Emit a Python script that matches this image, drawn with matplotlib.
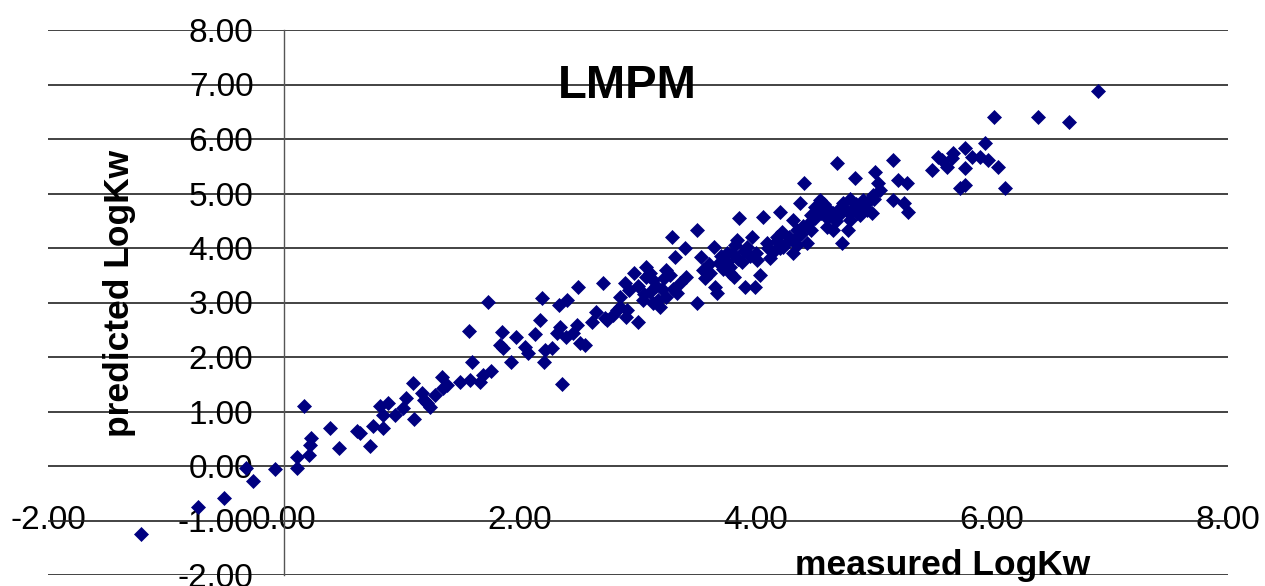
import numpy as np
import matplotlib
matplotlib.use("Agg")
import matplotlib.pyplot as plt

plt.rcParams['font.family'] = ['Liberation Sans', 'DejaVu Sans']

# measured vs predicted LogKw
measured = [
    -1.21, -0.73, -0.51, -0.32, -0.26, -0.08, 0.11, 0.11, 0.21, 0.22, 0.23, 0.17,
    0.39, 0.47, 0.62, 0.64, 0.73, 0.75,
    0.84, 0.81, 0.88, 0.84, 0.94, 1.01, 1.03, 1.10, 1.09, 1.17, 1.19, 1.24, 1.21,
    1.28, 1.34, 1.35, 1.38, 1.49, 1.58, 1.59, 1.57, 1.66, 1.69, 1.75, 1.73, 1.85,
    1.83, 1.86, 1.92, 1.97,
    2.07, 2.04, 2.13, 2.17, 2.20, 2.21, 2.27, 2.31, 2.34, 2.36, 2.39, 2.45, 2.51,
    2.55, 2.48, 2.61, 2.64, 2.72, 2.79, 2.85, 2.91, 2.70, 2.74, 2.89, 2.92, 2.85,
    2.82, 2.90, 3.00, 2.19, 2.33, 2.40, 2.49,
    3.07, 3.07, 3.13, 3.04, 3.13, 3.19, 3.24, 3.29, 3.24, 3.31, 3.36, 3.33, 3.40,
    3.41, 3.50, 3.50, 3.53, 3.55, 3.61, 3.64, 3.65, 3.67, 3.69, 3.75, 3.78, 3.81,
    3.84, 3.86, 3.88, 3.91, 3.92, 3.97, 3.99, 2.97,
    3.00, 3.10, 3.15, 3.20, 3.05, 3.17, 3.22, 3.27, 3.10, 3.30,
    3.70, 3.75, 3.80, 3.85, 3.90, 3.72, 3.95, 4.00, 3.82, 3.78, 3.60, 3.57,
    4.15, 4.20, 4.25, 4.28, 4.32, 4.38, 4.40, 4.45, 4.22, 4.35, 4.50, 4.47, 4.18, 4.10,
    4.55, 4.60, 4.62, 4.70, 4.72, 4.77, 4.82, 4.85, 4.90, 4.95, 4.58, 4.68, 4.88,
    5.00, 4.80,
    4.03, 4.01, 4.06, 4.09, 4.12, 4.20, 4.18, 4.23, 4.31, 4.31, 4.35, 4.37, 4.41,
    4.43, 4.47, 4.50, 4.54, 4.60, 4.65, 4.69, 4.65, 4.73, 4.74, 4.80, 4.78, 4.84,
    4.86, 4.91, 4.94, 4.98, 4.99,
    5.01, 5.03, 5.05, 5.16, 5.16, 5.20, 5.25, 5.28, 5.29, 5.49, 5.54, 5.58, 5.62,
    5.66, 5.67, 5.73, 5.77, 5.77, 5.77, 5.83, 5.90, 5.94, 5.97, 6.02, 6.05, 6.11,
    6.39, 6.65, 6.90,
]
predicted = [
    -1.25, -0.75, -0.58, -0.03, -0.28, -0.06, -0.04, 0.16, 0.20, 0.39, 0.52, 1.10,
    0.70, 0.33, 0.64, 0.60, 0.37, 0.73,
    0.70, 1.10, 1.15, 0.93, 0.93, 1.06, 1.25, 0.86, 1.52, 1.34, 1.21, 1.08, 1.15,
    1.30, 1.63, 1.43, 1.49, 1.54, 1.58, 1.91, 2.48, 1.54, 1.67, 1.74, 3.01, 2.45,
    2.22, 2.17, 1.91, 2.37,
    2.07, 2.18, 2.42, 2.68, 1.91, 2.13, 2.17, 2.44, 2.55, 1.50, 2.37, 2.44, 2.26,
    2.22, 2.59, 2.64, 2.83, 2.72, 2.77, 2.92, 2.86, 3.35, 2.68, 3.35, 3.23, 3.10,
    2.86, 2.73, 2.64, 3.08, 2.95, 3.05, 3.28,
    3.65, 3.47, 3.41, 3.05, 2.99, 2.92, 3.10, 4.20, 3.60, 3.84, 3.35, 3.17, 4.00,
    3.47, 4.33, 2.99, 3.84, 3.60, 3.54, 4.02, 3.28, 3.17, 3.72, 3.91, 3.65, 3.47,
    4.15, 4.55, 3.74, 3.28, 4.02, 4.20, 3.28, 3.54,
    3.30, 3.20, 3.30, 3.25, 3.15, 3.05, 3.45, 3.50, 3.55, 3.25,
    3.85, 3.75, 3.90, 3.80, 3.95, 3.62, 3.85, 3.90, 4.05, 3.55, 3.70, 3.45,
    3.95, 4.00, 4.10, 4.20, 4.15, 4.25, 4.40, 4.45, 4.30, 4.05, 4.55, 4.60, 4.12, 4.00,
    4.65, 4.55, 4.70, 4.60, 4.75, 4.68, 4.72, 4.80, 4.75, 4.85, 4.80, 4.50, 4.60,
    4.90, 4.90,
    3.50, 3.78, 4.57, 4.09, 3.82, 4.66, 4.20, 4.02, 3.91, 4.51, 4.33, 4.83, 5.19,
    4.09, 4.33, 4.75, 4.88, 4.39, 4.33, 5.56, 4.64, 4.09, 4.83, 4.51, 4.33, 5.28,
    4.64, 4.88, 4.70, 4.64, 4.97,
    5.40, 5.19, 5.06, 5.61, 4.88, 5.25, 4.83, 5.19, 4.66, 5.43, 5.67, 5.61, 5.49,
    5.65, 5.74, 5.10, 5.16, 5.47, 5.83, 5.67, 5.67, 5.93, 5.61, 6.40, 5.48, 5.11,
    6.40, 6.31, 6.88,
]

x_ticks = [-2, 0, 2, 4, 6, 8]
y_ticks = list(range(-2, 9))

fig = plt.figure(figsize=(12.65, 5.86), dpi=100)
ax = fig.add_axes([48 / 1265, 11 / 586, 1180 / 1265, 545 / 586])
ax.set_xlim(-2, 8)
ax.set_ylim(-2, 8)

# Excel-like look: y axis at x=0, only horizontal gridlines
for side in ['top', 'right']:
    ax.spines[side].set_visible(False)
ax.spines['left'].set_position(('data', 0))
ax.spines['left'].set_color('#555555')
ax.spines['left'].set_linewidth(1.0)
ax.spines['bottom'].set_position(('data', -1))
ax.spines['bottom'].set_visible(False)

ax.set_yticks(y_ticks)
ax.set_yticklabels([f"{v:.2f}" for v in y_ticks])
ax.set_xticks(x_ticks)
ax.set_xticklabels([f"{v:.2f}" for v in x_ticks])
ax.tick_params(axis='y', length=0, pad=22, labelsize=24)
ax.tick_params(axis='x', length=0, pad=0, labelsize=24)
for lbl in ax.get_xticklabels():
    lbl.set_va('center')

ax.yaxis.grid(True, color='#222222', linewidth=1.2)
ax.xaxis.grid(False)
ax.set_axisbelow(True)

ax.plot(measured, predicted, 'D', color='#000080', ms=7.5, mec='#000080',
        mew=0.5, zorder=3, clip_on=False)

ax.text(2.91, 6.97, 'LMPM', fontsize=34, fontweight='bold', ha='center', va='center')
ax.text(5.58, -1.82, 'measured LogKw', fontsize=25.5, fontweight='bold',
        ha='center', va='center')
ax.text(-1.39, 3.16, 'predicted LogKw', fontsize=25.5, fontweight='bold',
        rotation=90, ha='center', va='center')

fig.savefig('out.png', dpi=100)
